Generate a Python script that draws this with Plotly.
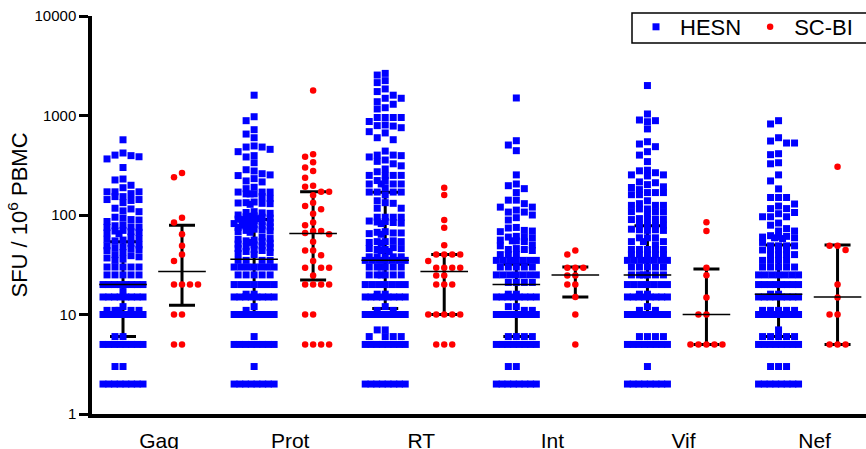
import numpy as np
import plotly.graph_objs as go

#----------------------------------------------------------
# Data (SFU / 10^6 PBMC)

categories = ["Gag", "Prot", "RT", "Int", "Vif", "Nef"]

gag_hesn = [570, 420, 400, 395, 385, 366, 300, 230, 225, 199, 188, 171, 171, 171, 164,
            153, 153, 143, 143, 140, 133, 117, 115, 110, 108, 95, 93, 90, 89, 86,
            79, 78, 76, 75, 75, 70, 69, 68, 67, 66, 65, 60, 58, 57, 56, 55, 52, 50,
            49, 48, 47, 46, 45, 44, 42, 40, 39, 38, 37, 36, 35,
            30, 30, 30, 30, 30, 25, 25, 25, 25, 25,
            20, 20, 20, 20, 20, 20, 20, 20, 17, 15, 15, 15, 15, 15, 15, 15, 15, 12,
            11, 11, 11, 11, 11, 10, 10, 10, 10, 10, 10, 10, 10, 6, 6,
            5, 5, 5, 5, 5, 5, 5, 5, 3, 3, 2, 2, 2, 2, 2, 2, 2, 2]

prot_hesn = [1600, 972, 887, 720, 651, 598, 494, 482, 482, 457, 433, 395, 383, 335, 285,
             277, 260, 253, 249, 232, 220, 215, 190, 184, 170, 170, 170, 163, 163, 163,
             153, 147, 135, 133, 132, 131, 130, 128, 108, 106, 105, 104,
             100, 98, 97, 96, 95, 93, 92, 91, 90, 88, 87, 86, 85, 84, 82, 80, 79, 78,
             77, 76, 75, 74, 72, 71, 70, 69, 68, 67,
             60, 58, 57, 56, 55, 54, 53, 52, 51, 50, 49, 48, 47, 46, 45, 44, 43, 42, 41, 40,
             35, 35, 35, 35, 30, 30, 30, 30, 30, 30, 30, 25, 25, 25, 25, 25,
             20, 20, 20, 20, 20, 20, 20, 16, 16, 15, 15, 15, 15, 15, 15, 15, 15, 12, 11,
             10, 10, 10, 10, 10, 10, 10, 10, 6, 5, 5, 5, 5, 5, 5, 5, 5, 3,
             2, 2, 2, 2, 2, 2, 2, 2]

rt_hesn = [2650, 2550, 2240, 2140, 1850, 1740, 1600, 1490, 1490, 1376, 1297, 1197, 1163,
           955, 955, 955, 955, 870, 803, 791, 783, 754, 688, 668, 598, 571,
           439, 400, 400, 395, 383, 357, 346, 327, 312, 290, 272, 250, 250, 250, 250,
           222, 222, 205, 205, 205, 205, 188, 170, 170, 170, 170, 159, 139, 133, 131, 117, 117,
           95, 95, 95, 95, 87, 86, 85, 84, 83, 82, 68, 67, 66, 66, 65, 64,
           55, 54, 54, 54, 53, 52, 47, 46, 46, 45, 45, 44, 43, 38, 38, 38, 38, 38,
           35, 35, 35, 35, 35, 35, 35, 30, 30, 30, 30, 30, 30, 25, 25, 25, 25, 25, 25,
           20, 20, 20, 20, 20, 20, 20, 16, 16, 15, 15, 15, 15, 15, 15, 15, 15, 12, 11, 11,
           10, 10, 10, 10, 10, 10, 10, 10, 7, 7, 6, 6, 6, 6,
           5, 5, 5, 5, 5, 5, 5, 5, 2, 2, 2, 2, 2, 2, 2, 2]

int_hesn = [1500, 558, 505, 443, 253, 205, 197, 184, 168, 141, 141, 130, 120, 120, 112,
            107, 107, 100, 94, 89, 75, 74, 70, 69, 68, 61, 60, 60, 59, 56, 55, 55, 54,
            50, 49, 46, 45, 45, 44, 40, 40, 40,
            35, 35, 35, 35, 35, 35, 35, 30, 30, 30, 30, 30, 25, 25, 25, 25, 25, 25, 25,
            21, 21, 21, 21, 16, 16, 15, 15, 15, 15, 15, 15, 15, 15, 12, 12, 11, 11,
            10, 10, 10, 10, 10, 10, 10, 10, 6, 6, 6, 6, 5, 5, 5, 5, 5, 5, 5, 5,
            3, 3, 2, 2, 2, 2, 2, 2, 2, 2]

vif_hesn = [2000, 1036, 901, 887, 866, 733, 545, 517, 486, 433, 400, 344, 282, 278, 266,
            253, 253, 247, 215, 211, 202, 192, 189, 180, 168, 168, 168, 160, 160, 139,
            130, 125, 125, 125, 115, 115, 108, 108, 108, 103, 92, 91, 91, 90, 90,
            80, 79, 79, 78, 72, 71, 71, 70, 70, 59, 59, 59, 54, 54, 54, 50,
            45, 45, 45, 45, 45, 40, 40, 40, 40, 40, 35, 35, 35, 35, 35, 35, 35,
            30, 30, 30, 30, 30, 25, 25, 25, 25, 25, 25, 20, 20, 20, 20, 20, 20, 20,
            16, 16, 15, 15, 15, 15, 15, 15, 15, 15, 12, 11, 11,
            10, 10, 10, 10, 10, 10, 10, 10, 6, 6, 6, 6, 5, 5, 5, 5, 5, 5, 5, 5,
            3, 2, 2, 2, 2, 2, 2, 2, 2]

nef_hesn = [887, 822, 598, 554, 529, 529, 413, 404, 335, 327, 253, 220, 183, 150, 150, 150,
            129, 123, 116, 116, 106, 103, 96, 96, 96, 83, 79, 73, 69, 69,
            62, 61, 60, 60, 59, 59, 58, 53, 49, 49, 49, 49, 44.5, 44.5, 44.5, 44.5,
            40, 40, 40, 40, 35, 35, 35, 35, 30, 30, 30, 30, 30,
            25, 25, 25, 25, 25, 25, 25, 20, 20, 20, 20, 20, 20, 20, 20, 16, 16,
            15, 15, 15, 15, 15, 15, 15, 15, 11, 11, 11, 11, 11,
            10, 10, 10, 10, 10, 10, 10, 10, 7, 6, 6, 6, 6, 6, 5, 5, 5, 5, 5, 5, 5, 5,
            3, 3, 3, 2, 2, 2, 2, 2, 2, 2, 2]

gag_scbi = [265, 240, 94, 84, 64, 49, 40, 34.5, 20, 20, 20, 20, 10, 10, 5, 5]
prot_scbi = [1780, 407, 385, 338, 301, 277, 237, 197, 192, 171, 171, 158, 133, 123, 114,
             103, 84, 79, 69, 69, 66, 64, 54, 44, 44, 39.4, 34.5, 29.5, 29.5, 29.5, 24.6,
             20, 20, 20, 20, 10, 10, 5, 5, 5, 5]
rt_scbi = [188, 159, 89, 74.5, 49.6, 40, 40, 40, 40, 34.5, 29.5, 29.5, 29.5, 29.5,
           24.6, 24.6, 20, 20, 20, 10, 10, 10, 10, 10, 5, 5, 5]
int_scbi = [44, 40, 29.5, 29.5, 29.5, 24.6, 24.6, 20, 20, 15, 10, 5]
vif_scbi = [84.5, 69, 29.5, 24.8, 14.8, 10, 10, 5, 5, 5, 5, 5]
nef_scbi = [306, 49, 49, 44.6, 20, 14.8, 10, 10, 5, 5, 5]

# median and interquartile range drawn on each column
hesn_median = [20, 36, 35, 20, 25, 16]
hesn_q1 = [6, 10, 11.5, 6, 10, 6]
hesn_q3 = [54, 90, 169, 32, 78, 50]
scbi_median = [27, 65, 27, 25, 10, 15]
scbi_q1 = [12.4, 22.2, 10, 15, 5, 5]
scbi_q3 = [79, 171, 40, 30, 28.7, 50]

#----------------------------------------------------------
# Layout constants

W, H = 866, 449
ml, mr, mt, mb = 92, 0, 16, 35
x_range = [-0.4615, 5.442]
px_per_unit = (W - ml - mr) / (x_range[1] - x_range[0])
px_per_decade = (H - mt - mb) / 4.0
pair_off = 0.225
FONT = "Liberation Sans, Arial, sans-serif"


def swarm(values, step=8, halfwidth=20, marker_px=7):
    # column scatter: identical crowded values become a row, the rest
    # are nudged sideways until they do not overlap
    vals = np.array(values, float)
    y = np.log10(vals) * px_per_decade
    offs = np.zeros(len(vals))
    done = np.zeros(len(vals), bool)
    placed = []
    uniq, counts = np.unique(vals, return_counts=True)
    for u, c in zip(uniq, counts):
        if c >= 7:
            idx = np.where(vals == u)[0]
            offs[idx] = np.linspace(-halfwidth, halfwidth, c)
            done[idx] = True
            placed += [(o, np.log10(u) * px_per_decade) for o in offs[idx]]
    cands = [0, -step, step, 2 * step, -2 * step, -step / 2, step / 2,
             -1.5 * step, 1.5 * step, -2.5 * step, 2.5 * step]
    cands = [c for c in cands if abs(c) <= halfwidth]
    for i in np.argsort(-vals, kind="stable"):
        if done[i]:
            continue
        best, best_d = 0, -1
        for c in cands:
            d = min([max(abs(c - px), abs(y[i] - py)) for px, py in placed], default=99)
            if d >= marker_px:
                best = c
                break
            if d > best_d:
                best, best_d = c, d
        offs[i] = best
        placed.append((best, y[i]))
    return offs / px_per_unit


def column_points(groups, side, **kw):
    xs, ys = [], []
    for i, vals in enumerate(groups):
        xs += list(i + side + swarm(vals, **kw))
        ys += list(vals)
    return xs, ys


hesn_groups = [gag_hesn, prot_hesn, rt_hesn, int_hesn, vif_hesn, nef_hesn]
scbi_groups = [gag_scbi, prot_scbi, rt_scbi, int_scbi, vif_scbi, nef_scbi]

hx, hy = column_points(hesn_groups, -pair_off, halfwidth=20)
sx, sy = column_points(scbi_groups, pair_off, halfwidth=16)

idx = np.arange(len(categories))
h_med = np.array(hesn_median, float)
s_med = np.array(scbi_median, float)

#----------------------------------------------------------
# Traces

whisk_hesn = go.Scatter(
    x=idx - pair_off, y=h_med, mode="markers",
    marker=dict(color="rgba(0,0,0,0)", size=1),
    error_y=dict(type="data", symmetric=False,
                 array=np.array(hesn_q3) - h_med, arrayminus=h_med - np.array(hesn_q1),
                 color="black", thickness=3, width=13),
    showlegend=False, hoverinfo="skip",
)
whisk_scbi = go.Scatter(
    x=idx + pair_off, y=s_med, mode="markers",
    marker=dict(color="rgba(0,0,0,0)", size=1),
    error_y=dict(type="data", symmetric=False,
                 array=np.array(scbi_q3) - s_med, arrayminus=s_med - np.array(scbi_q1),
                 color="black", thickness=3, width=13),
    showlegend=False, hoverinfo="skip",
)

pts_hesn = go.Scatter(
    x=hx, y=hy, mode="markers", name="HESN",
    marker=dict(symbol="square", size=7, color="#0000ff"),
)
pts_scbi = go.Scatter(
    x=sx, y=sy, mode="markers", name="SC-BI",
    marker=dict(symbol="circle", size=6.5, color="#ff0000"),
)

# line-ew markers are drawn 1.41x their size, so 34 gives a ~48px bar
medians = go.Scatter(
    x=list(idx - pair_off) + list(idx + pair_off),
    y=list(h_med) + list(s_med),
    mode="markers",
    marker=dict(symbol="line-ew", size=34, line=dict(color="black", width=1.5)),
    showlegend=False, hoverinfo="skip",
)

plot_h = H - mt - mb
plot_w = W - ml - mr

layout = go.Layout(
    width=W, height=H,
    margin=dict(l=ml, r=mr, t=mt, b=mb, autoexpand=False),
    plot_bgcolor="white", paper_bgcolor="white",
    font=dict(family=FONT, color="black"),
    xaxis=dict(
        range=x_range, tickmode="array", tickvals=idx + 0.05, ticktext=categories,
        showline=True, linecolor="black", linewidth=3.5, ticks="",
        showgrid=False, zeroline=False, tickfont=dict(size=21),
        ticklabelstandoff=5,
    ),
    yaxis=dict(
        type="log", range=[0, 4],
        tickmode="array", tickvals=[1, 10, 100, 1000, 10000],
        ticktext=["1", "10", "100", "1000", "10000"],
        showline=True, linecolor="black", linewidth=3.5,
        ticks="outside", ticklen=9, tickwidth=3, tickcolor="black",
        showgrid=False, zeroline=False, tickfont=dict(size=15),
        title=dict(text="SFU / 10<sup>6</sup> PBMC", font=dict(size=22), standoff=2),
    ),
    showlegend=True,
    legend=dict(
        orientation="h", x=(632 - ml) / plot_w, xanchor="left",
        y=(plot_h + mt - 6) / plot_h, yanchor="top",
        borderwidth=0, bgcolor="rgba(0,0,0,0)",
        font=dict(size=22), itemwidth=38,
    ),
    # legend frame
    shapes=[dict(
        type="rect", xref="paper", yref="paper",
        x0=(632 - ml) / plot_w, x1=1.02,
        y0=(plot_h + mt - 43) / plot_h, y1=(plot_h + mt - 13) / plot_h,
        line=dict(color="black", width=1.5), fillcolor="rgba(0,0,0,0)", layer="above",
    )],
)

fig = go.Figure(data=[whisk_hesn, whisk_scbi, pts_hesn, pts_scbi, medians], layout=layout)
fig.write_html("out.html", config={"displayModeBar": False},
               post_script="document.body.style.margin = '0';")
